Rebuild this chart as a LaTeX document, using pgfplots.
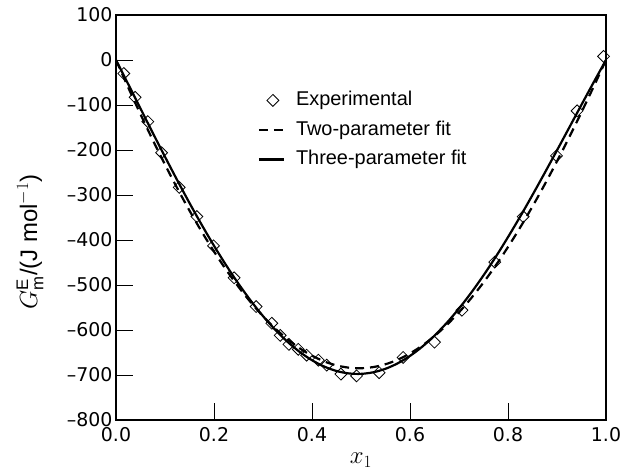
\documentclass[border=0pt]{standalone}
\usepackage{fontspec}
\setmainfont{Liberation Sans}
\newfontfamily\tickfont{DejaVu Sans}
\usepackage{pgfplots}
\pgfplotsset{compat=1.18}
\pgfplotsset{
  linelegend/.style={legend image code/.code={\draw[##1] (0bp,0bp) -- (25bp,0bp);}},
  marklegend/.style={legend image code/.code={\path (0bp,0bp) (25bp,0bp); \path[##1] plot coordinates {(14bp,0bp)};}},
}
\begin{document}
\begin{tikzpicture}
\begin{axis}[name=ax, scale only axis, width=490bp, height=405bp,
  xmin=0, xmax=1, ymin=-800, ymax=100,
  xtick={0,0.2,0.4,0.6,0.8,1}, xticklabels={0.0,0.2,0.4,0.6,0.8,1.0},
  ytick={-800,-700,-600,-500,-400,-300,-200,-100,0,100},
  yticklabels={\textendash800,\textendash700,\textendash600,\textendash500,\textendash400,\textendash300,\textendash200,\textendash100,0,100},
  tick align=inside, xtick pos=bottom, ytick pos=left, major tick length=17bp,
  axis line style={line width=1.1bp}, tick style={line width=0.9bp, black},
  ticklabel style={font=\tickfont\fontsize{19}{23}\selectfont},
  xticklabel style={yshift=-4bp},
  label style={font=\fontsize{24}{28}\selectfont},
  xlabel={$x_1$}, ylabel={$G^{\mathrm{E}}_{\mathrm{m}}$/(J mol$^{-1}$)},
  xlabel style={at={(axis description cs:0.5,-0.0988)}, anchor=center},
  ylabel style={at={(axis description cs:-0.1755,0.44)}, anchor=center},
  legend cell align=left,
  legend style={draw=none, fill=none, at={(0.289,0.818)}, anchor=north west,
    inner sep=0pt, row sep=6.5bp, column sep=9bp, font=\fontsize{20}{24}\selectfont,
    nodes={inner sep=2bp, text height=15bp, text depth=4bp}},
]
\addplot[only marks, mark=square, mark size=4.2bp, mark options={rotate=45, line width=0.8bp, fill=none, solid}, marklegend]
coordinates {
(0.016,-30) (0.039,-83) (0.065,-137) (0.093,-206) (0.129,-283) (0.165,-348)
(0.199,-413) (0.241,-484) (0.286,-548) (0.318,-585) (0.335,-612) (0.353,-632)
(0.372,-643) (0.389,-656) (0.413,-667) (0.430,-678) (0.459,-698) (0.491,-702)
(0.537,-695) (0.586,-661) (0.650,-627) (0.706,-556) (0.773,-449) (0.831,-348)
(0.899,-213) (0.941,-113) (0.995,8)
};
\addlegendentry{Experimental}
\addplot[black, line width=2.2bp, dash pattern=on 9bp off 6bp, smooth, linelegend]
coordinates {
(0,0) (0.025,-61.2) (0.05,-120.5) (0.075,-177.7) (0.1,-232.5) (0.125,-284.9)
(0.15,-334.7) (0.175,-381.6) (0.2,-425.6) (0.225,-466.5) (0.25,-504.1)
(0.275,-538.5) (0.3,-569.4) (0.325,-596.8) (0.35,-620.6) (0.375,-640.7)
(0.4,-657.1) (0.425,-669.8) (0.45,-678.7) (0.475,-683.7) (0.5,-685.0)
(0.525,-682.4) (0.55,-676.1) (0.575,-666.0) (0.6,-652.1) (0.625,-634.6)
(0.65,-613.5) (0.675,-588.8) (0.7,-560.7) (0.725,-529.1) (0.75,-494.4)
(0.775,-456.5) (0.8,-415.6) (0.825,-371.9) (0.85,-325.4) (0.875,-276.4)
(0.9,-225.1) (0.925,-171.5) (0.95,-116.0) (0.975,-58.8) (1,0)
};
\addlegendentry{Two-parameter fit}
\addplot[black, line width=2.2bp, smooth, linelegend]
coordinates {
(0,0) (0.025,-53.8) (0.05,-107.9) (0.075,-161.9) (0.1,-215.1) (0.125,-267.2)
(0.15,-317.8) (0.175,-366.4) (0.2,-412.8) (0.225,-456.5) (0.25,-497.3)
(0.275,-534.9) (0.3,-569.1) (0.325,-599.6) (0.35,-626.2) (0.375,-648.8)
(0.4,-667.2) (0.425,-681.3) (0.45,-691.1) (0.475,-696.5) (0.5,-697.5)
(0.525,-694.0) (0.55,-686.2) (0.575,-674.0) (0.6,-657.6) (0.625,-637.1)
(0.65,-612.5) (0.675,-584.2) (0.7,-552.3) (0.725,-517.0) (0.75,-478.6)
(0.775,-437.4) (0.8,-393.6) (0.825,-347.7) (0.85,-299.9) (0.875,-250.8)
(0.9,-200.7) (0.925,-150.1) (0.95,-99.4) (0.975,-49.2) (1,0)
};
\addlegendentry{Three-parameter fit}
\end{axis}
\pgfresetboundingbox
\path ([shift={(-116bp,-55bp)}]ax.south west) rectangle ([shift={(16bp,15bp)}]ax.north east);
\end{tikzpicture}
\end{document}
